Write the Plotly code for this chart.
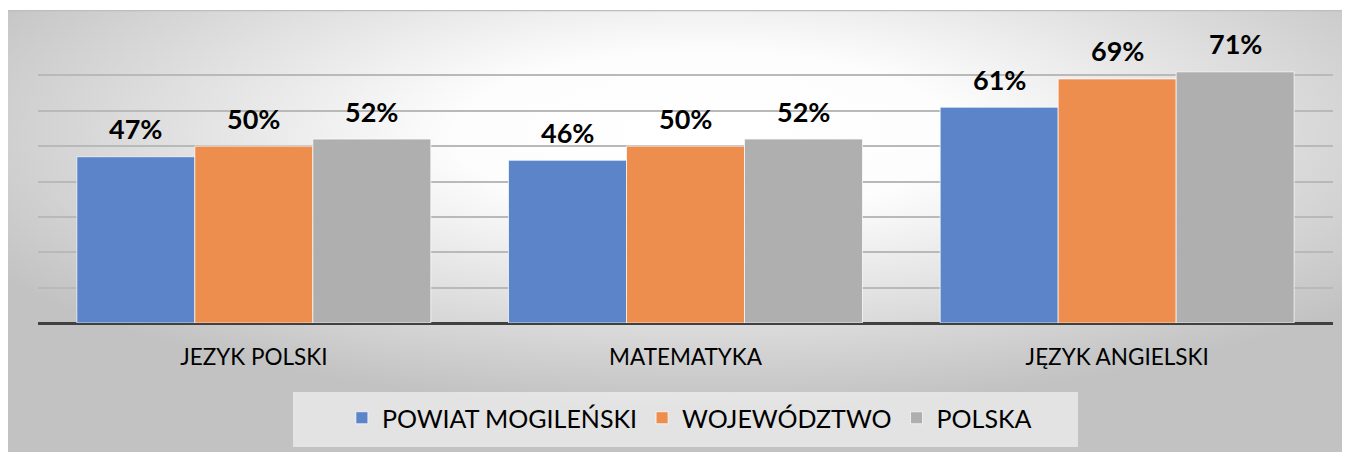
import base64
import plotly.graph_objects as go

categories = ["JEZYK POLSKI", "MATEMATYKA", "JĘZYK ANGIELSKI"]
series_names = ["POWIAT MOGILEŃSKI", "WOJEWÓDZTWO", "POLSKA"]
powiat = [0.47, 0.46, 0.61]
wojewodztwo = [0.50, 0.50, 0.69]
polska = [0.52, 0.52, 0.71]
colors = ["#5b84c9", "#ed8d4e", "#afafaf"]

# page body has an 8px margin, so the figure is 8px smaller than the window
W, H = 1342, 444
ml, mr, mt, mb = 30, 17, 32, 129
pw, ph = W - ml - mr, H - mt - mb
BARGAP = 0.18

svg = (
    "<svg xmlns='http://www.w3.org/2000/svg' width='1342' height='442' preserveAspectRatio='none'>"
    "<defs><radialGradient id='g' cx='0.52' cy='0.28' r='0.62'>"
    "<stop offset='0' stop-color='#ffffff'/>"
    "<stop offset='0.3' stop-color='#fdfdfd'/>"
    "<stop offset='1' stop-color='#c2c2c2'/>"
    "</radialGradient></defs>"
    "<rect x='0' y='0' width='1342' height='442' fill='url(#g)'/>"
    "<line x1='0' y1='0.5' x2='1342' y2='0.5' stroke='#bdbdbd' stroke-width='1.5'/>"
    "</svg>"
)
bg_uri = "data:image/svg+xml;base64," + base64.b64encode(svg.encode()).decode()

FONT = "Lato"
fig = go.Figure()
all_vals = [powiat, wojewodztwo, polska]
for name, vals, col in zip(series_names, all_vals, colors):
    fig.add_trace(go.Bar(
        x=categories, y=vals, name=name,
        marker=dict(color=col, line=dict(color="rgba(255,255,255,0.7)", width=1)),
        hoverinfo="skip",
    ))

# value labels above bars, horizontally offset to each bar of the group
bar_px = pw / len(categories) * (1 - BARGAP) / len(series_names)
annotations = []
for j, vals in enumerate(all_vals):
    for cat, v in zip(categories, vals):
        annotations.append(dict(
            x=cat, y=v, xref="x", yref="y", text=f"<b>{round(v*100)}%</b>",
            showarrow=False, xshift=(j - 1) * bar_px, yshift=28, yanchor="middle",
            font=dict(family=FONT, size=27, color="#000000"),
        ))

fig.update_layout(
    width=W, height=H,
    margin=dict(l=ml, r=mr, t=mt, b=mb, autoexpand=False),
    barmode="group", bargap=BARGAP, bargroupgap=0,
    paper_bgcolor="#ffffff", plot_bgcolor="rgba(0,0,0,0)",
    font=dict(family=FONT, color="#000000"),
    showlegend=True,
    legend=dict(
        orientation="h", x=0.503, xanchor="center", y=(315 - 410) / ph, yanchor="middle",
        font=dict(family=FONT, size=25, color="#000000"),
        bgcolor="rgba(0,0,0,0)", itemwidth=30, traceorder="normal",
    ),
    xaxis=dict(showgrid=False, ticks="", tickfont=dict(family=FONT, size=22.5, color="#000000"),
               showline=False, ticklabelstandoff=18),
    yaxis=dict(range=[0, 0.8], dtick=0.1, showticklabels=False, ticks="",
               showgrid=True, gridcolor="#b9b9b9", gridwidth=1.5,
               zeroline=True, zerolinecolor="#404040", zerolinewidth=3),
    annotations=annotations,
    shapes=[dict(type="rect", xref="paper", yref="paper", layer="below",
                 x0=(285 - ml) / pw, x1=(1070 - ml) / pw,
                 y0=(mt + ph - 439) / ph, y1=(mt + ph - 384) / ph,
                 fillcolor="rgba(255,255,255,0.55)", line=dict(width=0))],
    images=[dict(
        source=bg_uri, xref="paper", yref="paper",
        x=-ml / pw, y=1 + (mt - 2) / ph,
        sizex=W / pw, sizey=(H - 2) / ph,
        xanchor="left", yanchor="top", sizing="stretch", layer="below",
    )],
)

fig.write_html("out.html")
